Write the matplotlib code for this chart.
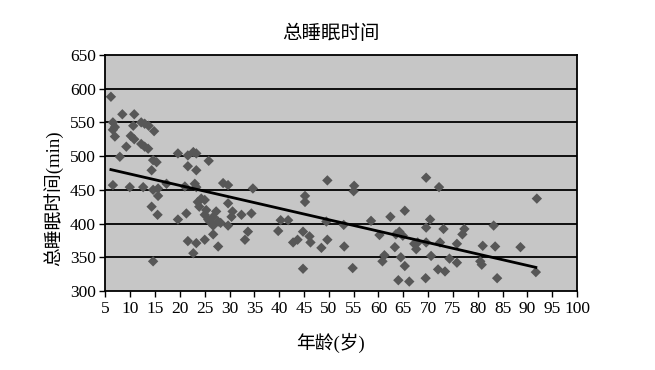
import numpy as np
import matplotlib
matplotlib.use('Agg')
import matplotlib.pyplot as plt

# ages (years) and total sleep time (min)
age = [6.1, 6.5, 6.9, 6.5, 6.9, 8.4, 10.8, 10.6, 12.2, 12.9, 13.7, 14.8,
       10.1, 10.8, 9.2, 12.2, 12.9, 13.6, 7.9, 6.5, 9.9, 12.6,
       14.6, 15.3, 14.3, 14.6, 15.6, 15.6, 14.3, 15.5, 14.6, 17.3,
       19.6, 21.6, 22.7, 23.3, 21.6, 23.3, 25.8, 21.0, 23.0, 23.3,
       23.6, 24.3, 25.0, 23.9, 25.3, 25.0, 25.7, 26.0, 26.7,
       27.3, 26.7, 26.7, 27.7, 27.7, 19.6, 21.3,
       21.6, 23.3, 25.0, 22.7,
       28.7, 29.7, 29.7, 30.6, 30.4, 29.7, 28.2,
       32.4, 34.4, 34.7, 33.7, 33.1,
       39.8, 40.3, 41.8, 42.8, 43.7, 44.8, 45.2, 45.2, 44.8,
       46.1, 46.3, 48.5, 49.7, 49.5, 49.7, 53.0, 53.1,
       55.1, 55.0, 54.8, 58.5, 60.2, 61.2, 60.8, 62.4, 65.3,
       63.5, 64.2, 64.9, 63.3, 64.5, 65.3, 64.0, 66.2,
       67.2, 67.9, 67.6, 69.6, 69.6, 70.4, 69.6, 72.2,
       70.6, 69.5, 73.1, 72.4, 72.0, 73.4, 74.3,
       75.8, 75.8, 76.9, 77.3, 80.5, 80.8, 81.0,
       83.2, 83.5, 83.9, 88.6, 91.9, 91.7]
sleep = [588, 550, 543, 539, 529, 562, 562, 545, 550, 548, 545, 537,
         530, 525, 514, 518, 514, 511, 499, 457, 454, 454,
         494, 491, 479, 450, 452, 441, 425, 413, 344, 459,
         504, 501, 506, 504, 485, 479, 493, 455, 459, 454,
         432, 437, 435, 425, 420, 413, 406, 403, 410,
         418, 397, 384, 403, 366, 406, 415,
         374, 371, 376, 356,
         460, 457, 430, 418, 410, 397, 401,
         413, 415, 452, 388, 376,
         389, 405, 405, 372, 376, 388, 441, 432, 333,
         381, 372, 364, 376, 403, 464, 398, 366,
         456, 448, 334, 404, 383, 353, 344, 410, 419,
         384, 388, 382, 365, 350, 337, 316, 314,
         370, 372, 362, 372, 394, 406, 468, 454,
         352, 319, 392, 372, 332, 329, 348,
         370, 342, 384, 392, 344, 339, 367,
         397, 366, 319, 365, 437, 328]

# trend line end points
trend_x = [6.1, 91.7]
trend_y = [480, 335]

xticks = list(range(5, 101, 5))
yticks = list(range(300, 651, 50))

serif = ['Liberation Serif', 'Noto Sans CJK SC']
cjk = ['Noto Sans CJK SC', 'Liberation Serif']

fig = plt.figure(figsize=(6.55, 3.70), dpi=100)
ax = fig.add_axes([0.161, 0.2135, 0.72, 0.638])
ax.set_facecolor('#c6c6c6')

for y in yticks[1:-1]:
    ax.axhline(y, color='black', lw=1.3, zorder=1)

ax.scatter(age, sleep, marker='D', s=28, color='#575757', edgecolors='none', zorder=2)
ax.plot(trend_x, trend_y, color='black', lw=2, zorder=3)

ax.set_xlim(5, 100)
ax.set_ylim(300, 650)
ax.set_xticks(xticks)
ax.set_yticks(yticks)
ax.tick_params(axis='both', direction='out', length=4, width=1, color='black', labelsize=12.5, pad=3)
for lab in ax.get_xticklabels() + ax.get_yticklabels():
    lab.set_family(serif)
for s in ax.spines.values():
    s.set_color('black')
    s.set_linewidth(1.3)

fig.text(0.505, 0.91, '总睡眠时间', family=cjk, fontsize=14, ha='center', va='center')
fig.text(0.505, 0.072, '年龄(岁)', family=serif, fontsize=13.5, ha='center', va='center')
fig.text(0.081, 0.465, '总睡眠时间(min)', family=serif, fontsize=13.5, ha='center', va='center',
         rotation=90)

plt.savefig('out.png', dpi=100)
